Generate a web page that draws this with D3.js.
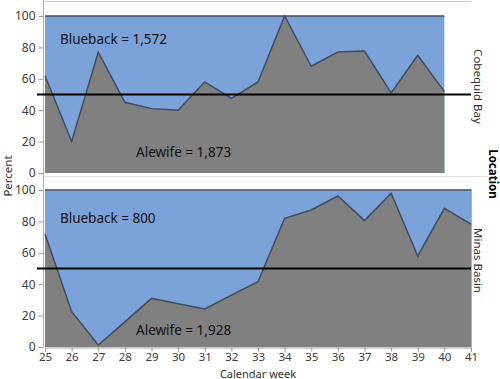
<!DOCTYPE html>
<html>
<head>
<meta charset="utf-8">
<script src="https://cdn.jsdelivr.net/npm/d3@7"></script>
<style>
  body { margin: 0; background: #fff; }
  text { font-family: "Noto Sans", "Open Sans", sans-serif; }
</style>
</head>
<body>
<script>
// weeks and alewife share (percent) per location
const weeksCobequid = [25, 26, 27, 28, 29, 30, 31, 32, 33, 34, 35, 36, 37, 38, 39, 40];
const alewifeCobequid = [62, 20, 77, 45, 41, 40, 58, 47.5, 58, 100, 68, 77, 77.7, 51, 75, 51.8];
const weeksMinas = [25, 26, 27, 28, 29, 30, 31, 32, 33, 34, 35, 36, 37, 38, 39, 40, 41];
const alewifeMinas = [72, 22.5, 1.3, 16, 31, 27.6, 24.2, 33, 41.6, 82, 87.3, 96.2, 80.5, 97.9, 58, 88.3, 78.3];
const yTicks = [0, 20, 40, 60, 80, 100];
const xTicks = d3.range(25, 42);

const panels = [
  { name: "Cobequid Bay", weeks: weeksCobequid, vals: alewifeCobequid,
    blue: "Blueback = 1,572", ale: "Alewife = 1,873", top: 16, bottom: 173 },
  { name: "Minas Basin", weeks: weeksMinas, vals: alewifeMinas,
    blue: "Blueback = 800", ale: "Alewife = 1,928", top: 190, bottom: 347 }
];

const svg = d3.select("body").append("svg")
  .attr("width", 500)
  .attr("height", 379);

const x = d3.scaleLinear().domain([25, 41]).range([45, 471]);

// frame lines
svg.append("line").attr("x1", 43).attr("x2", 471).attr("y1", 1.5).attr("y2", 1.5)
  .attr("stroke", "#c8c8c8");
svg.append("line").attr("x1", 43).attr("x2", 488).attr("y1", 176.5).attr("y2", 176.5)
  .attr("stroke", "#e0e0e0");
svg.append("line").attr("x1", 43.5).attr("x2", 43.5).attr("y1", 0).attr("y2", 347)
  .attr("stroke", "#b0b0b0");
svg.append("line").attr("x1", 471.5).attr("x2", 471.5).attr("y1", 189).attr("y2", 347)
  .attr("stroke", "#b0b0b0");

panels.forEach(p => {
  const y = d3.scaleLinear().domain([0, 100]).range([p.bottom, p.top]);
  const pts = p.weeks.map((w, i) => ({ w: w, v: p.vals[i] }));

  const g = svg.append("g");

  g.append("path")
    .datum(pts)
    .attr("fill", "#7ba3d9")
    .attr("d", d3.area().x(d => x(d.w)).y0(y(0)).y1(y(100)));

  g.append("path")
    .datum(pts)
    .attr("fill", "#808080")
    .attr("d", d3.area().x(d => x(d.w)).y0(y(0)).y1(d => y(d.v)));

  g.append("path")
    .datum(pts)
    .attr("fill", "none")
    .attr("stroke", "#3d4c62")
    .attr("stroke-width", 1.5)
    .attr("d", d3.line().x(d => x(d.w)).y(d => y(d.v)));

  // top edge at 100
  g.append("line")
    .attr("x1", x(p.weeks[0])).attr("x2", x(p.weeks[p.weeks.length - 1]))
    .attr("y1", y(100)).attr("y2", y(100))
    .attr("stroke", "#4a4f58").attr("stroke-width", 1.5);

  // 50% reference
  g.append("line")
    .attr("x1", 37).attr("x2", 471)
    .attr("y1", y(50)).attr("y2", y(50))
    .attr("stroke", "#000").attr("stroke-width", 2);

  const yAxis = d3.axisLeft(y).tickValues(yTicks).tickSize(5).tickPadding(3);
  const ga = g.append("g").attr("transform", "translate(43.5,0)").call(yAxis);
  ga.select(".domain").remove();
  ga.selectAll("line").attr("stroke", "#999");
  ga.selectAll("text").attr("fill", "#404040").style("font-size", "12px")
    .style("font-family", "'Noto Sans', sans-serif");

  g.append("text")
    .attr("x", x(25.56)).attr("y", y(p === panels[0] ? 85.4 : 82.2))
    .attr("dy", "0.35em")
    .style("font-size", "13.5px").attr("fill", "#111")
    .text(p.blue);
  g.append("text")
    .attr("x", x(28.42)).attr("y", y(p === panels[0] ? 13.4 : 10.8))
    .attr("dy", "0.35em")
    .style("font-size", "13.5px").attr("fill", "#111")
    .text(p.ale);

  const cy = (p.top + p.bottom) / 2 - 8;
  svg.append("text")
    .attr("transform", `translate(474,${cy}) rotate(90)`)
    .attr("text-anchor", "middle")
    .style("font-size", "11.5px").attr("fill", "#333")
    .text(p.name);
});

// x axis
const xAxis = d3.axisBottom(x).tickValues(xTicks).tickSize(4).tickPadding(1).tickFormat(d3.format("d"));
const gx = svg.append("g").attr("transform", "translate(0,347.5)").call(xAxis);
gx.select(".domain").attr("stroke", "#999");
gx.selectAll("line").attr("stroke", "#999");
gx.selectAll("text").attr("fill", "#404040").style("font-size", "11.5px")
  .style("font-family", "'Noto Sans', sans-serif");

svg.append("text")
  .attr("x", 258).attr("y", 377.5)
  .attr("text-anchor", "middle")
  .style("font-size", "11px").attr("fill", "#333")
  .text("Calendar week");

svg.append("text")
  .attr("transform", "translate(12,176) rotate(-90)")
  .attr("text-anchor", "middle")
  .style("font-size", "11.5px").attr("fill", "#333")
  .text("Percent");

svg.append("text")
  .attr("transform", "translate(488.5,174) rotate(90)")
  .attr("text-anchor", "middle")
  .style("font-size", "11.5px").style("font-weight", "bold").attr("fill", "#000")
  .text("Location");
</script>
</body>
</html>
